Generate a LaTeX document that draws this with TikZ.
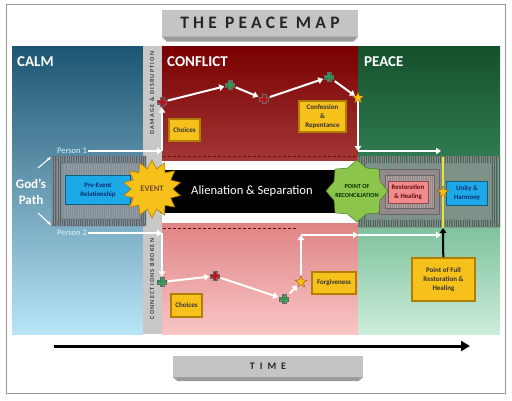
\documentclass[tikz,border=0pt]{standalone}
\usepackage{fontspec}
\setmainfont{Carlito}
\usetikzlibrary{
    shapes.geometric, shapes.misc,
    arrows.meta, positioning, calc,
    patterns.meta
}
\definecolor{calmtop}{HTML}{1C5572}
\definecolor{calmbot}{HTML}{B9E5F7}
\definecolor{conftop}{HTML}{780000}
\definecolor{confbot}{HTML}{A43636}
\definecolor{pinktop}{HTML}{DF8484}
\definecolor{pinkbot}{HTML}{F9C5C5}
\definecolor{peacetop}{HTML}{14502C}
\definecolor{peacemid}{HTML}{2F7B51}
\definecolor{mintop}{HTML}{7EC19D}
\definecolor{minbot}{HTML}{CBEDDA}
\definecolor{stripgray}{HTML}{C8C8C8}
\definecolor{barlight}{HTML}{C4C4C4}
\definecolor{bardark}{HTML}{9C9C9C}
\definecolor{goldfill}{HTML}{F6C11B}
\definecolor{goldedge}{HTML}{B07E00}
\definecolor{skyfill}{HTML}{1DA9E8}
\definecolor{skytext}{HTML}{0B2C70}
\definecolor{salmon}{HTML}{F28C8C}
\definecolor{leaf}{HTML}{8CC54B}
\definecolor{slate}{HTML}{4F6475}
\definecolor{slatelt}{HTML}{879DB0}
\definecolor{moss}{HTML}{3E6A55}
\definecolor{mosslt}{HTML}{6F9983}
\definecolor{rosegray}{HTML}{9E8585}
\definecolor{roselt}{HTML}{B89C9C}
\definecolor{crossred}{HTML}{B3171C}
\definecolor{crossgreen}{HTML}{2A9B50}
\definecolor{hiline}{HTML}{E9E23C}
\tikzset{
  bar/.style={rectangle, fill=barlight, text=black!85, inner sep=0pt,
              font=\fontsize{17.5}{17.5}\selectfont\bfseries\addfontfeature{LetterSpace=24}},
  hdr/.style={anchor=west, text=white, inner sep=0pt,
              font=\fontsize{15}{15}\selectfont\bfseries},
  striptxt/.style={rotate=90, text=black!75, inner sep=0pt,
                   font=\fontsize{6.2}{6.2}\selectfont\bfseries\addfontfeature{LetterSpace=20}},
  who/.style={text=white!85!cyan, inner sep=1pt, font=\fontsize{8.5}{9}\selectfont},
  btn/.style={rectangle, fill=goldfill, draw=goldedge, line width=1.6pt,
              preaction={draw=black!70, line width=2.4pt},
              align=center, text=black!80, inner sep=1pt,
              font=\fontsize{7}{9}\selectfont\bfseries},
  flat/.style={rectangle, draw=#1!55!black, line width=.5pt, fill=#1,
               align=center, inner sep=1pt,
               font=\fontsize{6.8}{9}\selectfont\bfseries},
  hatch/.style={fill=#1, postaction={pattern={Lines[angle=90, distance=1.8pt,
                line width=.45pt]}, pattern color=black!45}},
  edge3d/.style={black!60, line width=.4pt},
  plusmk/.style={rectangle, minimum size=11pt, inner sep=0pt,
                 path picture={\fill[#1, draw=black!60, line width=.3pt,
                   shift={(path picture bounding box.center)}]
                   (-1.7,-4.6) -- (1.7,-4.6) -- (1.7,-1.7) -- (4.6,-1.7)
                   -- (4.6,1.7) -- (1.7,1.7) -- (1.7,4.6) -- (-1.7,4.6)
                   -- (-1.7,1.7) -- (-4.6,1.7) -- (-4.6,-1.7) -- (-1.7,-1.7)
                   -- cycle;}},
  redx/.style={plusmk=crossred},
  grnx/.style={plusmk=crossgreen},
  gstar/.style={star, star points=5, star point ratio=2.3, fill=goldfill,
                draw=orange!60!black, line width=.4pt,
                minimum size=12pt, inner sep=0pt},
  event/.style={star, star points=14, star point ratio=1.4, fill=goldfill,
                draw=goldedge, line width=.6pt, minimum size=58pt, inner sep=0pt,
                text=brown!60!black, font=\fontsize{8.5}{9}\selectfont\bfseries},
  recon/.style={star, star points=8, star point ratio=1.25, fill=leaf,
                draw=leaf!60!black, line width=.5pt, minimum size=62pt, inner sep=0pt},
  walk/.style={white, line width=2pt, -{Triangle[width=6.5pt, length=5pt]}},
  pointer/.style={white, line width=1.1pt, -{Stealth[length=4pt]}},
}
\begin{document}
\begin{tikzpicture}[x=1pt, y=-1pt]
  \useasboundingbox (0,0) rectangle (512,400);
  \draw[black!40, line width=1pt] (6,4) rectangle (505,393);

  % columns
  \fill[top color=calmtop, bottom color=calmbot] (12,46) rectangle (143,334);
  \fill[stripgray] (143,46) rectangle (162,334);
  \fill[top color=conftop, bottom color=confbot] (162,46) rectangle (358,160);
  \fill[top color=pinktop, bottom color=pinkbot] (162,223) rectangle (358,334);
  \fill[top color=peacetop, bottom color=peacemid] (358,46) rectangle (500,157);
  \fill[top color=mintop, bottom color=minbot] (358,226) rectangle (500,334);
  \fill[black] (160,170) rectangle (346,213);
  \draw[crossred!60!black, line width=.8pt, dash pattern=on 3pt off 2pt] (163,156) -- (357,156);
  \draw[crossred!60!black, line width=.8pt, dash pattern=on 3pt off 2pt] (163,228) -- (298,228);

  \node[hdr] (calm) at (17,62) {CALM};
  \node[hdr] (conflict) at (167,62) {CONFLICT};
  \node[hdr] (peace) at (364,62) {PEACE};
  \node[striptxt] (damage) at (152,93) {DAMAGE \& DISRUPTION};
  \node[striptxt] (broken) at (152,279) {CONNECTIONS BROKEN};
  \node[text=white, font=\fontsize{12.6}{13}\selectfont] (alien) at (252,191) {Alienation \& Separation};

  % left frame
  \fill[hatch=slate] (52,156) rectangle (146,226);
  \fill[hatch=slatelt] (62,163) rectangle (140,219);
  \draw[edge3d] (52,156) rectangle (146,226) (62,163) rectangle (140,219)
    (52,156) -- (62,163) (146,156) -- (140,163) (52,226) -- (62,219) (146,226) -- (140,219);
  \node[flat=skyfill, text=skytext, minimum width=65pt, minimum height=29pt] (pre)
    at (98,190) {Pre-Event\\Relationship};

  % right frame
  \fill[hatch=moss] (358,156) rectangle (500,227);
  \fill[hatch=mosslt] (366,163) rectangle (492,220);
  \draw[edge3d] (358,156) rectangle (500,227) (366,163) rectangle (492,220)
    (358,156) -- (366,163) (500,156) -- (492,163) (358,227) -- (366,220) (500,227) -- (492,220);
  \fill[hatch=rosegray] (379,169) rectangle (439,214);
  \fill[hatch=roselt] (385,175) rectangle (434,208);
  \draw[edge3d] (379,169) rectangle (439,214) (385,175) rectangle (434,208);
  \node[flat=salmon, text=crossred!55!black, minimum width=40pt, minimum height=22pt] (restore)
    at (408,192) {Restoration\\\& Healing};
  \node[flat=skyfill, text=skytext, minimum width=41pt, minimum height=24pt] (unity)
    at (467,193) {Unity \&\\Harmony};

  \coordinate (ytop) at (443,157);
  \coordinate (ybot) at (443,228);
  \draw[hiline, line width=2pt] (ytop) -- (ybot);
  \node[gstar] (ystar) at (443,192) {};

  \node[event] (evt) at (152,189) {EVENT};
  \node[recon] (recpt) at (357,191) {};
  \node[align=center, inner sep=0pt, text=green!20!black,
        font=\fontsize{6.2}{9}\selectfont\bfseries] (rectxt) at (recpt) {POINT OF\\RECONCILIATION};

  % God's path
  \node[text=white, align=center, font=\fontsize{13}{16}\selectfont\bfseries] (gods)
    at (31,192) {God’s\\Path};
  \coordinate (ga) at (38,168);
  \coordinate (gb) at (38,213);
  \coordinate (gp1) at (51,157);
  \coordinate (gp2) at (51,225);
  \draw[pointer] (ga) -- (gp1);
  \draw[pointer] (gb) -- (gp2);

  % person 1
  \node[who] (p1) at (72,151) {Person 1};
  \coordinate (k1) at (162,151);
  \node[redx] (u1) at (162,102) {};
  \node[grnx] (u2) at (230,85) {};
  \node[redx] (u3) at (264,99) {};
  \node[grnx] (u4) at (329,77) {};
  \node[gstar] (s1) at (358,98) {};
  \coordinate (k2) at (358,151);
  \coordinate (k3) at (441,151);
  \draw[walk] (p1) -- (k1);
  \draw[walk] (k1) -- (u1);
  \draw[walk] (u1) -- (u2);
  \draw[walk] (u2) -- (u3);
  \draw[walk] (u3) -- (u4);
  \draw[walk] (u4) -- (s1);
  \draw[walk] (s1) -- (k2);
  \draw[walk] (k2) -- (k3);

  % person 2
  \node[who] (p2) at (72,233) {Person 2};
  \coordinate (k4) at (162,233);
  \node[grnx] (l1) at (162,282) {};
  \node[redx] (l2) at (215,276) {};
  \node[grnx] (l3) at (284,299) {};
  \node[gstar] (s2) at (301,282) {};
  \coordinate (k5) at (301,235);
  \coordinate (k6) at (358,235);
  \coordinate (k7) at (441,235);
  \draw[walk] (p2) -- (k4);
  \draw[walk] (k4) -- (l1);
  \draw[walk] (l1) -- (l2);
  \draw[walk] (l2) -- (l3);
  \draw[walk] (l3) -- (s2);
  \draw[walk] (s2) -- (k5);
  \draw[walk] (k5) -- (k6);
  \draw[walk] (k6) -- (k7);

  \node[btn, minimum width=31pt, minimum height=22pt] (choice1) at (184.5,130) {Choices};
  \node[btn, minimum width=47pt, minimum height=31pt] (confess) at (322.5,116.5) {Confession\\\&\\Repentance};
  \node[btn, minimum width=31pt, minimum height=23pt] (choice2) at (186.5,305.5) {Choices};
  \node[btn, minimum width=44pt, minimum height=22pt] (forgive) at (334,283) {Forgiveness};
  \node[btn, minimum width=63pt, minimum height=43pt] (full) at (443.5,279.5) {Point of Full\\Restoration \&\\Healing};
  \draw[line width=2pt, -{Triangle[width=6.5pt, length=5pt]}] (full) -- (ybot);

  % time
  \coordinate (t0) at (54,346);
  \coordinate (t1) at (470,346);
  \draw[line width=3pt, -{Triangle[width=10pt, length=9pt]}] (t0) -- (t1);

  \node[bar, minimum width=196pt, minimum height=27pt] (title) at (260,23) {THE PEACE MAP};
  \fill[bardark] (title.south west) -- (title.south east) -- ([xshift=-5pt, yshift=-5pt]title.south east)
    -- ([xshift=5pt, yshift=-5pt]title.south west) -- cycle;
  \node[bar, minimum width=190pt, minimum height=21pt,
        font=\fontsize{10}{10}\selectfont\bfseries\addfontfeature{LetterSpace=50}] (time) at (268,366.5) {TIME};
  \fill[bardark] (time.south west) -- (time.south east) -- ([xshift=-5pt, yshift=-4pt]time.south east)
    -- ([xshift=5pt, yshift=-4pt]time.south west) -- cycle;
\end{tikzpicture}
\end{document}
